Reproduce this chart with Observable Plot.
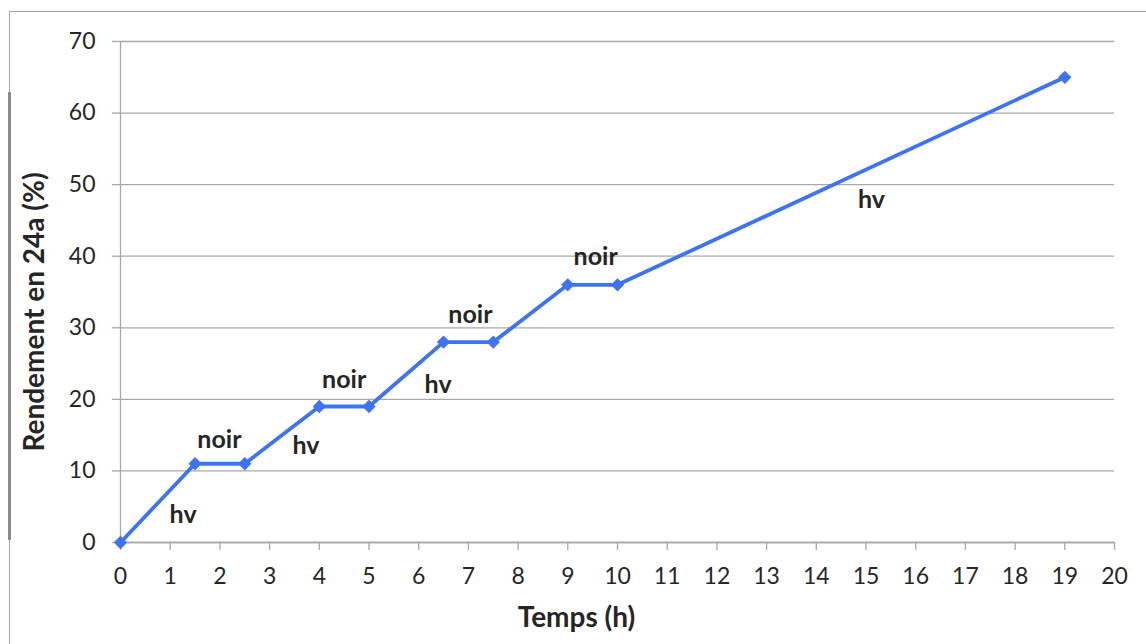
<!DOCTYPE html>
<html>
<head>
<meta charset="utf-8">
<script src="https://cdn.jsdelivr.net/npm/d3@7"></script>
<script src="https://cdn.jsdelivr.net/npm/@observablehq/plot@0.6"></script>
<style>
  html, body { margin: 0; padding: 0; background: #fff; }
  #wrap { position: relative; width: 1146px; height: 644px; overflow: hidden; }
  #frame { position: absolute; left: 9px; top: 11px; width: 1140px; height: 640px;
           border-top: 1.5px solid #a3a3a3; border-left: 1.5px solid #a3a3a3; }
  #mark { position: absolute; left: 8px; top: 92px; width: 3px; height: 448px; background: #8c8c8c; }
  #chart { position: absolute; left: 0; top: 0; }
</style>
</head>
<body>
<div id="wrap">
  <div id="frame"></div>
  <div id="mark"></div>
  <div id="chart"></div>
</div>
<script>
// Data
const timeHours = [0, 1.5, 2.5, 4, 5, 6.5, 7.5, 9, 10, 19];
const yieldPct  = [0, 11, 11, 19, 19, 28, 28, 36, 36, 65];

const xTicks = d3.range(0, 21);
const yTicks = [0, 10, 20, 30, 40, 50, 60, 70];

const noteTexts = ["hv", "noir", "hv", "noir", "hv", "noir", "noir", "hv"];
const noteX     = [1.26, 1.99, 3.73, 4.5, 6.39, 7.04, 9.56, 15.11];
const noteY     = [3.9, 14.3, 13.5, 22.7, 22.0, 31.8, 39.9, 47.9];

const xTitle = "Temps (h)";
const yTitle = "Rendement en 24a (%)";

const points = timeHours.map((t, i) => ({t, v: yieldPct[i]}));
const notes = noteTexts.map((s, i) => ({s, x: noteX[i], y: noteY[i]}));

const blue = "#3e73f6";
const grid = "#a8a8a8";
const ink = "#262626";

const chart = Plot.plot({
  width: 1146,
  height: 644,
  marginTop: 41,
  marginLeft: 120,
  marginRight: 32,
  marginBottom: 102,
  style: { fontFamily: "Lato, 'Open Sans', sans-serif", fontSize: "23px", color: ink, background: "transparent" },
  x: { domain: [0, 20] },
  y: { domain: [0, 70] },
  marks: [
    Plot.gridY(yTicks, { stroke: grid, strokeOpacity: 1, strokeWidth: 1.3 }),
    Plot.ruleX([0], { stroke: grid, strokeWidth: 1.3 }),
    Plot.ruleY([0], { stroke: grid, strokeWidth: 1.3 }),
    Plot.axisY(yTicks, { tickSize: 8, tickPadding: 17, stroke: grid, strokeWidth: 1.3, fill: ink, label: null }),
    Plot.axisX(xTicks, { tickSize: 8, tickPadding: 17, stroke: grid, strokeWidth: 1.3, fill: ink, label: null }),
    Plot.line(points, { x: "t", y: "v", stroke: blue, strokeWidth: 3.8 }),
    Plot.dot(points, { x: "t", y: "v", symbol: "diamond2", r: 6, fill: blue, stroke: "none" }),
    Plot.text(notes, { x: "x", y: "y", text: "s", fontSize: 25, fontWeight: "bold", fill: ink }),
    Plot.text([xTitle], { frameAnchor: "bottom", textAnchor: "middle", lineAnchor: "middle", dx: -41, dy: 76, fontSize: 28, fontWeight: "bold", fill: ink }),
    Plot.text([yTitle], { frameAnchor: "left", textAnchor: "middle", lineAnchor: "middle", rotate: -90, dx: -85, dy: 20, fontSize: 28, fontWeight: "bold", fill: ink })
  ]
});
document.getElementById("chart").appendChild(chart);
</script>
</body>
</html>
